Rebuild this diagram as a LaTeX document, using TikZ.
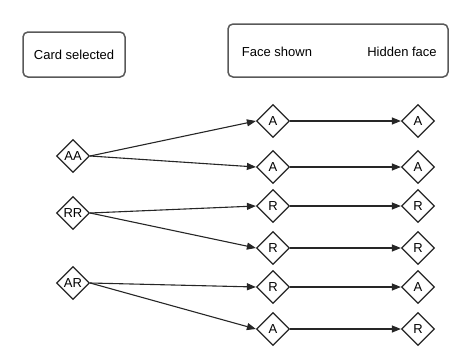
\documentclass[tikz,border=0pt]{standalone}
\usepackage{fontspec}
\setmainfont{Liberation Sans}
\usetikzlibrary{shapes.geometric,arrows.meta}
\begin{document}
\begin{tikzpicture}[x=1pt,y=-1pt,
  every node/.style={font=\fontsize{13}{15}\selectfont, text=black},
  headbox/.style={draw=black!65, line width=1.5pt, rounded corners=5pt, inner sep=0pt},
  choice/.style={diamond, draw=black!85, line width=1.2pt, fill=white, inner sep=0pt,
    minimum width=33pt, minimum height=33pt, aspect=1},
  link/.style={draw=black!85, line width=1.1pt, -{Triangle[length=9pt,width=7pt]}}]
\useasboundingbox (0,0) rectangle (451,359);

% header boxes
\node[headbox, minimum width=102pt, minimum height=45pt] (card) at (74,54.5) {Card selected};
\node[headbox, minimum width=220pt, minimum height=53pt] (faces) at (338,50.5) {};
\node (shown) at (277,52) {Face shown};
\node (hidden) at (402,52) {Hidden face};

% selected cards
\node[choice] (aa) at (73,156) {AA};
\node[choice] (rr) at (73,213) {RR};
\node[choice] (ar) at (73,283) {AR};

% face shown
\node[choice] (s1) at (273,121) {A};
\node[choice] (s2) at (273,167) {A};
\node[choice] (s3) at (273,206) {R};
\node[choice] (s4) at (273,248) {R};
\node[choice] (s5) at (273,287) {R};
\node[choice] (s6) at (273,329) {A};

% hidden face
\node[choice] (h1) at (418,121) {A};
\node[choice] (h2) at (418,167) {A};
\node[choice] (h3) at (418,206) {R};
\node[choice] (h4) at (418,248) {R};
\node[choice] (h5) at (418,287) {A};
\node[choice] (h6) at (418,329) {R};

% card to shown face
\draw[link] (aa.east) -- (s1.west);
\draw[link] (aa.east) -- (s2.west);
\draw[link] (rr.east) -- (s3.west);
\draw[link] (rr.east) -- (s4.west);
\draw[link] (ar.east) -- (s5.west);
\draw[link] (ar.east) -- (s6.west);

% shown face to hidden face
\foreach \i in {1,...,6} \draw[link] (s\i.east) -- (h\i.west);
\end{tikzpicture}
\end{document}
